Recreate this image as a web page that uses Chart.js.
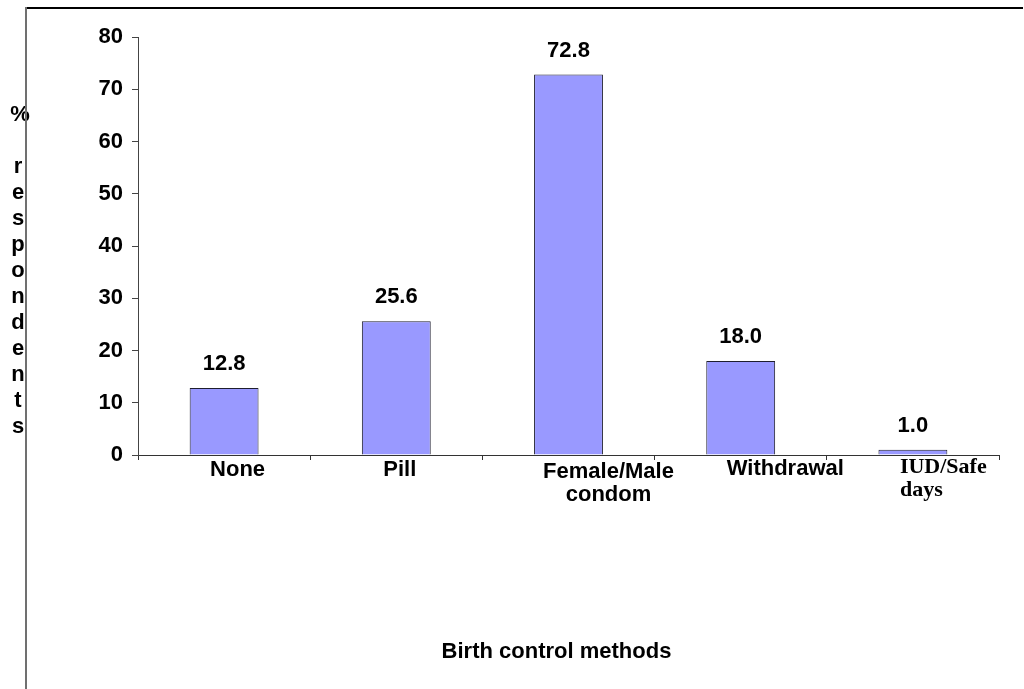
<!DOCTYPE html>
<html>
<head>
<meta charset="utf-8">
<title>Birth control methods</title>
<style>
  html, body { margin: 0; padding: 0; background: #ffffff; }
  #wrap { width: 1024px; height: 689px; position: relative; }
</style>
<script src="https://cdn.jsdelivr.net/npm/chart.js@4.4.1/dist/chart.umd.min.js"></script>
</head>
<body>
<div id="wrap"><canvas id="chart" width="1024" height="689"></canvas></div>
<script>
// ---- data ----
const categories = [['None'], ['Pill'], ['Female/Male', 'condom'], ['Withdrawal'], ['IUD/Safe', 'days']];
const shares = [12.8, 25.6, 72.8, 18.0, 1.0];           // % of respondents
const yTickValues = [0, 10, 20, 30, 40, 50, 60, 70, 80];
const xTitle = 'Birth control methods';
const yTitle = '% respondents';

// ---- style ----
const SANS = '"Liberation Sans", Arial, sans-serif';
const SERIF = '"Liberation Serif", "Times New Roman", serif';
const LABEL_FONT = 'bold 22px ' + SANS;
// placement of each category label relative to its category centre
const catLabelPlacement = [
  { align: 'left',   dx: -14, font: LABEL_FONT, dy: 21 },
  { align: 'left',   dx: -13, font: LABEL_FONT, dy: 21 },
  { align: 'center', dx: 40,  font: LABEL_FONT, dy: 23 },
  { align: 'left',   dx: -14, font: LABEL_FONT, dy: 20 },
  { align: 'left',   dx: -13, font: 'bold 22px ' + SERIF, dy: 18 }
];

const decorations = {
  id: 'decorations',
  afterDraw(chart) {
    const { ctx, chartArea, scales } = chart;
    const xs = scales.x;
    ctx.save();
    ctx.fillStyle = '#000000';

    // value labels above the bars
    ctx.font = LABEL_FONT;
    ctx.textAlign = 'center';
    ctx.textBaseline = 'alphabetic';
    chart.getDatasetMeta(0).data.forEach((bar, i) => {
      ctx.fillText(shares[i].toFixed(1), bar.x, bar.y - 18);
    });

    // category labels
    categories.forEach((lines, i) => {
      const p = catLabelPlacement[i];
      const cx = xs.getPixelForValue(i) + p.dx;
      ctx.font = p.font;
      ctx.textAlign = p.align;
      lines.forEach((line, j) => {
        ctx.fillText(line, cx, chartArea.bottom + p.dy + j * 23);
      });
    });

    // x axis title
    ctx.font = LABEL_FONT;
    ctx.textAlign = 'center';
    ctx.fillText(xTitle, (chartArea.left + chartArea.right) / 2 - 12, chartArea.bottom + 203);

    // y axis title, one character per line
    ctx.textAlign = 'center';
    yTitle.split('').forEach((ch, i) => {
      if (ch === ' ') return;
      ctx.fillText(ch, ch === '%' ? 20 : 18, 121 + i * 26);
    });

    // outer frame (top and left edges)
    ctx.lineWidth = 2;
    ctx.strokeStyle = '#000000';
    ctx.beginPath();
    ctx.moveTo(25, 8);
    ctx.lineTo(1023, 8);
    ctx.stroke();
    ctx.strokeStyle = '#707070';
    ctx.beginPath();
    ctx.moveTo(26, 7);
    ctx.lineTo(26, 689);
    ctx.stroke();

    ctx.restore();
  }
};

new Chart(document.getElementById('chart'), {
  type: 'bar',
  data: {
    labels: categories.map(c => c.join(' ')),
    datasets: [{
      data: shares,
      backgroundColor: '#9999FF',
      borderColor: '#1e1e2e',
      borderWidth: 1,
      categoryPercentage: 1.0,
      barPercentage: 0.4
    }]
  },
  options: {
    responsive: false,
    animation: false,
    layout: { padding: { top: 37, right: 25, left: 0, bottom: 0 } },
    plugins: { legend: { display: false }, tooltip: { enabled: false }, title: { display: false } },
    scales: {
      x: {
        grid: { display: true, drawOnChartArea: false, drawTicks: true, tickLength: 5, color: '#333333', offset: true },
        border: { display: true, color: '#333333', width: 1 },
        ticks: { display: false },
        afterFit(scale) { scale.height = 234; }
      },
      y: {
        min: 0,
        max: 80,
        afterBuildTicks(scale) { scale.ticks = yTickValues.map(v => ({ value: v })); },
        grid: { drawOnChartArea: false, drawTicks: true, tickLength: 6, color: '#444444' },
        border: { display: true, color: '#444444', width: 1 },
        ticks: { color: '#000000', font: { family: SANS, size: 22, weight: 'bold' }, padding: 9 },
        afterFit(scale) { scale.width = 138; }
      }
    }
  },
  plugins: [decorations]
});
</script>
</body>
</html>
